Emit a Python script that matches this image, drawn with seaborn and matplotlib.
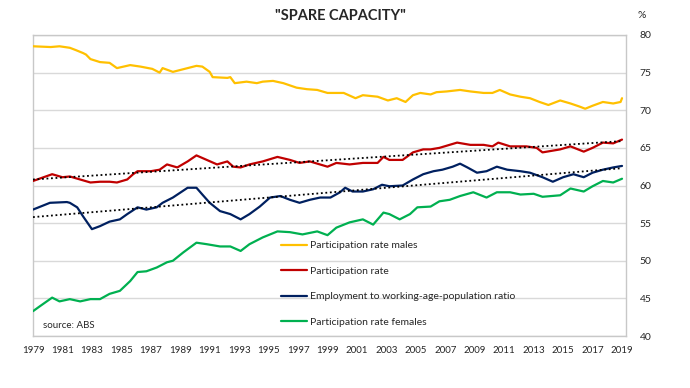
#!/usr/bin/env python3

import pandas as pd
import seaborn as sns
import matplotlib.pyplot as plt

# Participation rate males
males_year = [1979.0, 1980.2, 1980.8, 1981.5, 1981.9, 1982.4, 1982.6, 1982.9, 1983.55, 1984.2,
              1984.7, 1985.6, 1986.3, 1987.1, 1987.6, 1987.8, 1988.5, 1989.5, 1990.1, 1990.5,
              1991.0, 1991.2, 1992.2, 1992.4, 1992.7, 1993.5, 1994.2, 1994.6, 1995.3, 1996.0,
              1996.9, 1997.6, 1998.3, 1999.0, 2000.1, 2000.9, 2001.4, 2002.4, 2003.1, 2003.7,
              2004.3, 2004.8, 2005.3, 2006.0, 2006.4, 2007.1, 2008.0, 2008.7, 2009.6, 2010.2,
              2010.7, 2011.4, 2012.1, 2012.75, 2013.4, 2014.0, 2014.8, 2015.5, 2016.1, 2016.5,
              2017.0, 2017.7, 2018.4, 2018.9, 2019.0]
males_val = [78.5, 78.4, 78.5, 78.3, 78.0, 77.6, 77.4, 76.8, 76.4, 76.3,
             75.6, 76.0, 75.8, 75.5, 75.0, 75.6, 75.1, 75.6, 75.9, 75.8,
             75.1, 74.4, 74.3, 74.4, 73.6, 73.8, 73.6, 73.8, 73.9, 73.6,
             73.0, 72.8, 72.7, 72.3, 72.3, 71.6, 72.0, 71.8, 71.3, 71.6,
             71.1, 72.0, 72.3, 72.1, 72.4, 72.5, 72.7, 72.5, 72.3, 72.3,
             72.7, 72.1, 71.8, 71.6, 71.1, 70.7, 71.3, 70.9, 70.5, 70.2,
             70.6, 71.1, 70.9, 71.1, 71.6]

# Participation rate
part_year = [1979.0, 1980.3, 1981.0, 1981.5, 1982.2, 1982.9, 1983.55, 1984.2, 1984.7, 1985.4,
             1985.8, 1986.1, 1987.0, 1987.6, 1988.1, 1988.8, 1989.5, 1990.1, 1990.8, 1991.5,
             1992.2, 1992.6, 1993.1, 1993.7, 1994.6, 1995.6, 1996.45, 1997.1, 1997.8, 1999.0,
             1999.6, 2000.5, 2001.4, 2002.4, 2002.8, 2003.2, 2004.1, 2004.8, 2005.5, 2006.0,
             2006.6, 2007.8, 2008.7, 2009.6, 2010.2, 2010.6, 2011.4, 2012.5, 2013.2, 2013.6,
             2014.8, 2015.5, 2016.4, 2017.0, 2017.7, 2018.4, 2019.0]
part_val = [60.6, 61.5, 61.1, 61.2, 60.8, 60.4, 60.5, 60.5, 60.4, 60.8,
            61.5, 61.9, 61.9, 62.1, 62.8, 62.4, 63.2, 64.0, 63.4, 62.8,
            63.2, 62.5, 62.4, 62.8, 63.2, 63.8, 63.4, 63.0, 63.2, 62.5,
            63.0, 62.8, 63.0, 63.0, 63.8, 63.4, 63.4, 64.4, 64.8, 64.8,
            65.0, 65.7, 65.4, 65.4, 65.2, 65.7, 65.2, 65.2, 65.0, 64.4,
            64.8, 65.2, 64.5, 65.0, 65.7, 65.6, 66.1]

# Employment to working-age-population ratio
emp_year = [1979.0, 1980.15, 1981.3, 1981.5, 1982.0, 1982.4, 1983.0, 1983.55, 1984.2, 1984.9,
            1985.4, 1986.1, 1986.7, 1987.4, 1987.8, 1988.5, 1989.5, 1990.1, 1990.5, 1991.0,
            1991.7, 1992.4, 1993.1, 1993.7, 1994.4, 1995.1, 1995.8, 1996.45, 1997.1, 1997.8,
            1998.5, 1999.2, 1999.85, 2000.2, 2000.7, 2001.4, 2002.1, 2002.7, 2003.2, 2004.1,
            2004.8, 2005.5, 2006.2, 2006.8, 2007.5, 2008.0, 2008.5, 2009.15, 2009.8, 2010.5,
            2011.2, 2012.1, 2012.75, 2013.6, 2014.3, 2015.0, 2015.7, 2016.4, 2017.0, 2017.7,
            2018.4, 2019.0]
emp_val = [56.8, 57.7, 57.8, 57.7, 57.1, 55.9, 54.2, 54.6, 55.2, 55.5,
           56.2, 57.1, 56.8, 57.1, 57.7, 58.4, 59.7, 59.7, 58.8, 57.7,
           56.6, 56.2, 55.5, 56.2, 57.2, 58.4, 58.6, 58.1, 57.7, 58.1,
           58.4, 58.4, 59.1, 59.7, 59.2, 59.2, 59.5, 60.1, 59.9, 60.0,
           60.8, 61.5, 61.9, 62.1, 62.5, 62.9, 62.4, 61.7, 61.9, 62.5,
           62.1, 61.9, 61.7, 61.1, 60.5, 61.1, 61.5, 61.1, 61.7, 62.1,
           62.4, 62.6]

# Participation rate females
fem_year = [1979.0, 1979.5, 1980.3, 1980.8, 1981.5, 1982.2, 1982.9, 1983.55, 1984.2, 1984.9,
            1985.6, 1986.1, 1986.7, 1987.4, 1988.1, 1988.5, 1989.2, 1990.1, 1990.8, 1991.7,
            1992.4, 1993.1, 1993.7, 1994.6, 1995.6, 1996.45, 1997.3, 1998.3, 1999.0, 1999.6,
            2000.5, 2001.4, 2002.1, 2002.8, 2003.2, 2003.9, 2004.6, 2005.1, 2006.0, 2006.6,
            2007.3, 2008.0, 2008.9, 2009.8, 2010.5, 2011.4, 2012.1, 2013.0, 2013.6, 2014.8,
            2015.5, 2016.4, 2017.0, 2017.7, 2018.4, 2019.0]
fem_val = [43.3, 44.0, 45.1, 44.6, 44.9, 44.6, 44.9, 44.9, 45.6, 46.0,
           47.3, 48.5, 48.6, 49.1, 49.8, 50.0, 51.1, 52.4, 52.2, 51.9,
           51.9, 51.3, 52.2, 53.1, 53.9, 53.8, 53.5, 53.9, 53.4, 54.4,
           55.1, 55.5, 54.8, 56.4, 56.2, 55.5, 56.2, 57.1, 57.2, 57.9,
           58.1, 58.6, 59.1, 58.4, 59.1, 59.1, 58.8, 58.9, 58.5, 58.7,
           59.6, 59.2, 59.9, 60.6, 60.4, 60.9]

# linear trend end points (1979 -> 2019)
trend_year = [1979.0, 2019.0]
part_trend = [60.8, 65.9]
emp_trend = [55.8, 62.3]

labels = ["Participation rate males", "Participation rate",
          "Employment to working-age-population ratio", "Participation rate females"]
colors = ["#FFC000", "#C00000", "#002060", "#00B050"]
xticks = list(range(1979, 2020, 2))
yticks = list(range(40, 81, 5))


if __name__ == '__main__':
	sns.set_theme(style="white")
	plt.rcParams['font.family'] = ['Lato', 'DejaVu Sans']
	fig = plt.figure(figsize=(6.9, 3.88), dpi=100)
	ax = fig.add_axes([33/690, 1-336/388, (626-33)/690, (336-35)/388])

	series = [(males_year, males_val), (part_year, part_val),
	          (emp_year, emp_val), (fem_year, fem_val)]
	handles = []
	for (xs, ys), lab, c in zip(series, labels, colors):
		df = pd.DataFrame({"year": xs, "value": ys})
		sns.lineplot(x="year", y="value", data=df, color=c, linewidth=1.6,
		             ax=ax, legend=False, zorder=3)
		handles.append(ax.lines[-1])

	for tr in (part_trend, emp_trend):
		sns.lineplot(x=trend_year, y=tr, color="black", linestyle=(0, (1, 1.5)),
		             linewidth=1.3, ax=ax, legend=False, zorder=4)

	ax.set_xlim(1979, 2019.27)
	ax.set_ylim(40, 80)
	ax.set_xticks(xticks)
	ax.set_xticklabels([str(t) for t in xticks])
	ax.set_yticks(yticks)
	ax.yaxis.tick_right()
	ax.grid(axis="y", color="#D9D9D9", linewidth=1)
	ax.set_axisbelow(True)
	for s in ax.spines.values():
		s.set_color("#C8C8C8")
		s.set_linewidth(1)
	ax.tick_params(axis="x", length=3, color="#C8C8C8", pad=4, labelsize=7, labelcolor="#262626")
	ax.tick_params(axis="y", length=0, pad=10, labelsize=7.5, labelcolor="#262626")
	ax.set_xlabel('')
	ax.set_ylabel('')

	leg = fig.legend(handles, labels, loc="upper left", bbox_to_anchor=(281/690, 1-241/388),
	                 frameon=False, fontsize=7.5, labelspacing=1.55, handlelength=2.5,
	                 handletextpad=0.3, borderpad=0, borderaxespad=0)
	for t in leg.get_texts():
		t.set_color("#262626")

	fig.text(340/690, 1-16/388, '"SPARE CAPACITY"', ha="center", va="center",
	         fontsize=10.5, fontweight="bold", color="#262626")
	fig.text(642/690, 1-15/388, "%", ha="center", va="center", fontsize=7.5, color="#262626")
	fig.text(43/690, 1-325/388, "source: ABS", ha="left", va="center", fontsize=7, color="#262626")

	plt.savefig("out.png", dpi=100)
